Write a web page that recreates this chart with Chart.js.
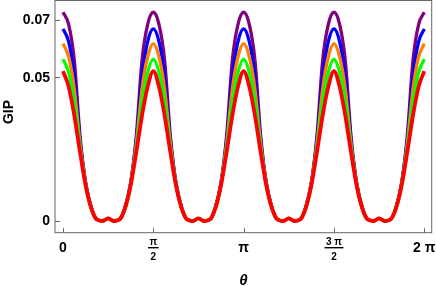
<!DOCTYPE html>
<html>
<head>
<meta charset="utf-8">
<script src="https://cdn.jsdelivr.net/npm/chart.js@4"></script>
<style>
  html, body { margin: 0; padding: 0; background: #fff; overflow: hidden; }
  canvas { display: block; }
</style>
</head>
<body>
<canvas id="gipChart" width="436" height="286"></canvas>
<script>
// sampling grid in theta: steps of pi/32 from 0 to 2 pi
const theta = Array.from({ length: 65 }, (_, i) => i * Math.PI / 32);

// GIP values, one list per curve
const purpleValues = [
  0.0727, 0.0685, 0.0560, 0.0300, 0.0135, 0.0048, 0.0005, 0.0000, 0.0009, 0.0000, 0.0005, 0.0048, 0.0135, 0.0300, 0.0560, 0.0685,
  0.0727, 0.0685, 0.0560, 0.0300, 0.0135, 0.0048, 0.0005, 0.0000, 0.0009, 0.0000, 0.0005, 0.0048, 0.0135, 0.0300, 0.0560, 0.0685,
  0.0727, 0.0685, 0.0560, 0.0300, 0.0135, 0.0048, 0.0005, 0.0000, 0.0009, 0.0000, 0.0005, 0.0048, 0.0135, 0.0300, 0.0560, 0.0685,
  0.0727, 0.0685, 0.0560, 0.0300, 0.0135, 0.0048, 0.0005, 0.0000, 0.0009, 0.0000, 0.0005, 0.0048, 0.0135, 0.0300, 0.0560, 0.0685,
  0.0727
];
const blueValues = [
  0.0669, 0.0625, 0.0505, 0.0285, 0.0132, 0.0047, 0.0005, 0.0000, 0.0009, 0.0000, 0.0005, 0.0047, 0.0132, 0.0285, 0.0505, 0.0625,
  0.0669, 0.0625, 0.0505, 0.0285, 0.0132, 0.0047, 0.0005, 0.0000, 0.0009, 0.0000, 0.0005, 0.0047, 0.0132, 0.0285, 0.0505, 0.0625,
  0.0669, 0.0625, 0.0505, 0.0285, 0.0132, 0.0047, 0.0005, 0.0000, 0.0009, 0.0000, 0.0005, 0.0047, 0.0132, 0.0285, 0.0505, 0.0625,
  0.0669, 0.0625, 0.0505, 0.0285, 0.0132, 0.0047, 0.0005, 0.0000, 0.0009, 0.0000, 0.0005, 0.0047, 0.0132, 0.0285, 0.0505, 0.0625,
  0.0669
];
const orangeValues = [
  0.0618, 0.0572, 0.0460, 0.0272, 0.0130, 0.0046, 0.0005, 0.0000, 0.0009, 0.0000, 0.0005, 0.0046, 0.0130, 0.0272, 0.0460, 0.0572,
  0.0618, 0.0572, 0.0460, 0.0272, 0.0130, 0.0046, 0.0005, 0.0000, 0.0009, 0.0000, 0.0005, 0.0046, 0.0130, 0.0272, 0.0460, 0.0572,
  0.0618, 0.0572, 0.0460, 0.0272, 0.0130, 0.0046, 0.0005, 0.0000, 0.0009, 0.0000, 0.0005, 0.0046, 0.0130, 0.0272, 0.0460, 0.0572,
  0.0618, 0.0572, 0.0460, 0.0272, 0.0130, 0.0046, 0.0005, 0.0000, 0.0009, 0.0000, 0.0005, 0.0046, 0.0130, 0.0272, 0.0460, 0.0572,
  0.0618
];
const greenValues = [
  0.0564, 0.0518, 0.0415, 0.0258, 0.0128, 0.0045, 0.0005, 0.0000, 0.0009, 0.0000, 0.0005, 0.0045, 0.0128, 0.0258, 0.0415, 0.0518,
  0.0564, 0.0518, 0.0415, 0.0258, 0.0128, 0.0045, 0.0005, 0.0000, 0.0009, 0.0000, 0.0005, 0.0045, 0.0128, 0.0258, 0.0415, 0.0518,
  0.0564, 0.0518, 0.0415, 0.0258, 0.0128, 0.0045, 0.0005, 0.0000, 0.0009, 0.0000, 0.0005, 0.0045, 0.0128, 0.0258, 0.0415, 0.0518,
  0.0564, 0.0518, 0.0415, 0.0258, 0.0128, 0.0045, 0.0005, 0.0000, 0.0009, 0.0000, 0.0005, 0.0045, 0.0128, 0.0258, 0.0415, 0.0518,
  0.0564
];
const redValues = [
  0.0522, 0.0468, 0.0368, 0.0242, 0.0125, 0.0045, 0.0005, 0.0000, 0.0009, 0.0000, 0.0005, 0.0045, 0.0125, 0.0242, 0.0368, 0.0468,
  0.0522, 0.0468, 0.0368, 0.0242, 0.0125, 0.0045, 0.0005, 0.0000, 0.0009, 0.0000, 0.0005, 0.0045, 0.0125, 0.0242, 0.0368, 0.0468,
  0.0522, 0.0468, 0.0368, 0.0242, 0.0125, 0.0045, 0.0005, 0.0000, 0.0009, 0.0000, 0.0005, 0.0045, 0.0125, 0.0242, 0.0368, 0.0468,
  0.0522, 0.0468, 0.0368, 0.0242, 0.0125, 0.0045, 0.0005, 0.0000, 0.0009, 0.0000, 0.0005, 0.0045, 0.0125, 0.0242, 0.0368, 0.0468,
  0.0522
];

// tick marks and their labels
const xTickValues = [0, Math.PI / 2, Math.PI, 3 * Math.PI / 2, 2 * Math.PI];
const xTickLabels = [['0'], ['π', '2'], ['π'], ['3 π', '2'], ['2 π']];
const yTickValues = [0, 0.05, 0.07];
const yTickLabels = ['0', '0.05', '0.07'];

const xTitle = 'θ';
const yTitle = 'GIP';

const FONT = '"Liberation Sans", Arial, sans-serif';

function toPoints(values) {
    return values.map((v, i) => ({ x: theta[i], y: v }));
}

// frame, inward ticks, tick labels and axis titles drawn from the scales
const framePlugin = {
    id: 'frame',
    afterDraw(chart) {
        const ctx = chart.ctx;
        const area = chart.chartArea;
        const xs = chart.scales.x;
        const ys = chart.scales.y;

        ctx.save();
        ctx.strokeStyle = '#666';
        ctx.lineWidth = 1;
        ctx.strokeRect(area.left, area.top, area.right - area.left, area.bottom - area.top);

        // ticks
        ctx.beginPath();
        xTickValues.forEach(v => {
            const px = Math.round(xs.getPixelForValue(v)) + 0.5;
            ctx.moveTo(px, area.bottom);
            ctx.lineTo(px, area.bottom - 4.5);
        });
        yTickValues.forEach(v => {
            const py = Math.round(ys.getPixelForValue(v)) + 0.5;
            ctx.moveTo(area.left, py);
            ctx.lineTo(area.left + 5, py);
        });
        ctx.stroke();

        ctx.fillStyle = '#000';
        ctx.strokeStyle = '#000';

        // y labels
        ctx.font = 'bold 14px ' + FONT;
        ctx.textAlign = 'right';
        ctx.textBaseline = 'middle';
        yTickValues.forEach((v, i) => {
            ctx.fillText(yTickLabels[i], 50, ys.getPixelForValue(v) + 0.5);
        });

        // x labels (plain or fraction)
        ctx.textAlign = 'center';
        ctx.textBaseline = 'alphabetic';
        xTickValues.forEach((v, i) => {
            const px = xs.getPixelForValue(v);
            const lab = xTickLabels[i];
            if (lab.length === 1) {
                ctx.font = 'bold 14px ' + FONT;
                ctx.fillText(lab[0], px, 251.5);
            } else {
                ctx.font = 'bold 10px ' + FONT;
                const barY = 247.7;
                const w = Math.max(ctx.measureText(lab[0]).width, ctx.measureText(lab[1]).width) + 3;
                ctx.fillText(lab[0], px, barY - 2.8);
                ctx.fillText(lab[1], px, barY + 12);
                ctx.lineWidth = 1.4;
                ctx.beginPath();
                ctx.moveTo(px - w / 2, barY);
                ctx.lineTo(px + w / 2, barY);
                ctx.stroke();
            }
        });

        // axis titles
        ctx.font = 'italic bold 15px ' + FONT;
        ctx.textAlign = 'center';
        ctx.fillText(xTitle, (area.left + area.right) / 2, 285);

        ctx.font = 'bold 14px ' + FONT;
        ctx.translate(13, 112);
        ctx.rotate(-Math.PI / 2);
        ctx.textBaseline = 'alphabetic';
        ctx.fillText(yTitle, 0, 0);
        ctx.restore();
    }
};

const ctx = document.getElementById('gipChart').getContext('2d');

// higher order is drawn first, so red ends up on top like the reference
new Chart(ctx, {
    type: 'line',
    data: {
        datasets: [
            { label: 'purple', data: toPoints(purpleValues), borderColor: '#800080', borderWidth: 3.3, order: 5 },
            { label: 'blue', data: toPoints(blueValues), borderColor: '#0000ff', borderWidth: 3.3, order: 4 },
            { label: 'orange', data: toPoints(orangeValues), borderColor: '#ff8000', borderWidth: 3.3, order: 3 },
            { label: 'green', data: toPoints(greenValues), borderColor: '#00ff00', borderWidth: 3.3, order: 2 },
            { label: 'red', data: toPoints(redValues), borderColor: '#ff0000', borderWidth: 3.8, order: 1 },
        ],
    },
    options: {
        responsive: false,
        animation: false,
        devicePixelRatio: 1,
        layout: {
            padding: { left: 55, right: 4.3, top: 0.5, bottom: 53.3 }
        },
        elements: {
            point: { radius: 0 },
            line: { cubicInterpolationMode: 'monotone', fill: false }
        },
        scales: {
            x: { type: 'linear', min: -0.139, max: 6.412, display: false },
            y: { type: 'linear', min: -0.00408, max: 0.0768, display: false }
        },
        plugins: {
            legend: { display: false },
            tooltip: { enabled: false }
        }
    },
    plugins: [framePlugin]
});
</script>
</body>
</html>
